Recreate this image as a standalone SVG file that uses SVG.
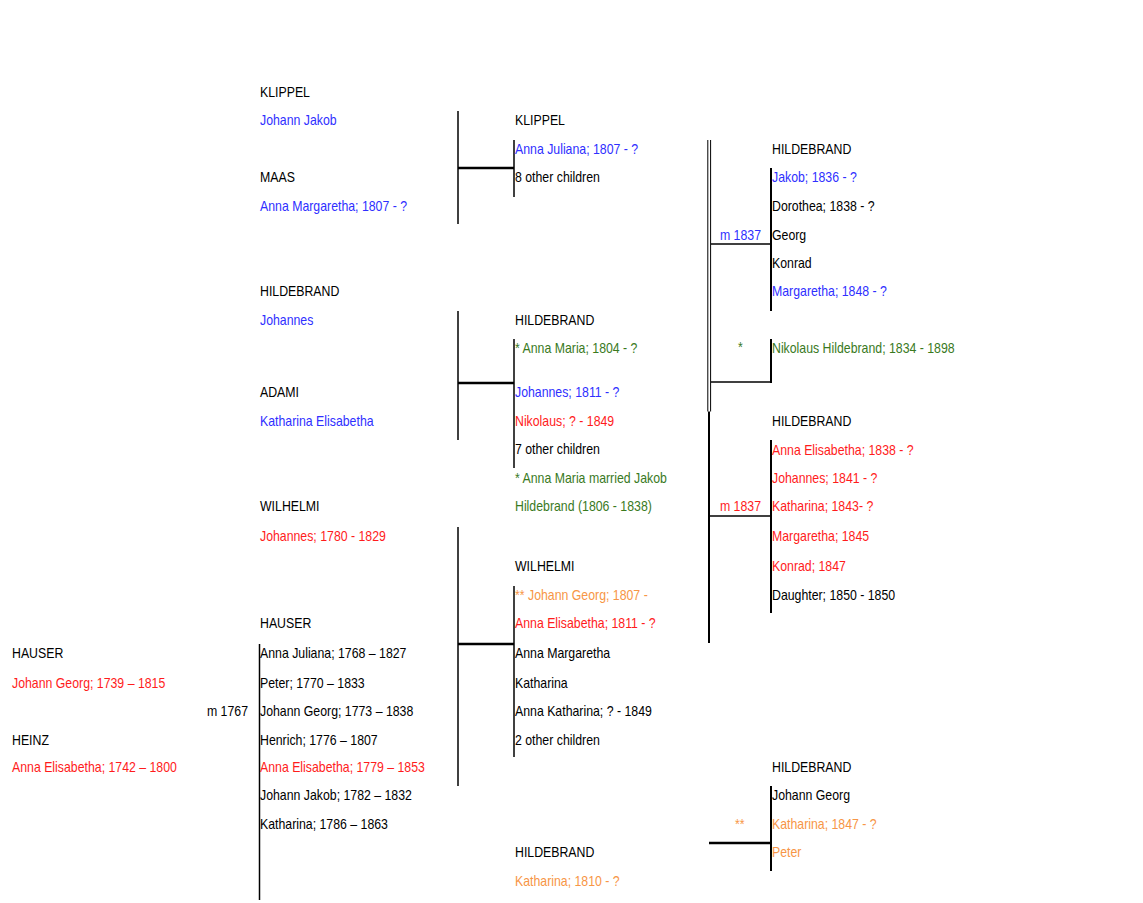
<svg xmlns="http://www.w3.org/2000/svg" width="1143" height="903" viewBox="0 0 1143 903">
<style>
text{font-family:"Liberation Sans",Arial,sans-serif;font-size:14px;fill:#000}
.b{fill:#2f2fff}
.r{fill:#ff1c1c}
.g{fill:#3a7a1e}
.o{fill:#f79646}
.e{text-anchor:end}
.c line{stroke:#000;stroke-width:1.5}
.c .t{stroke-width:2.5}
.c .m{stroke-width:2}
.c .d{stroke-width:1}
</style>
<rect width="1143" height="903" fill="#fff"/>
<g class="c" id="connectors">
<line x1="458" y1="111" x2="458" y2="224"/>
<line class="t" x1="458" y1="168" x2="514" y2="168"/>
<line x1="514" y1="140" x2="514" y2="197"/>
<line x1="458" y1="311" x2="458" y2="440"/>
<line class="t" x1="458" y1="383" x2="514" y2="383"/>
<line x1="514" y1="339" x2="514" y2="468"/>
<line x1="458" y1="527" x2="458" y2="786"/>
<line class="t" x1="458" y1="644" x2="514" y2="644"/>
<line x1="514" y1="586" x2="514" y2="757"/>
<line x1="259.5" y1="644" x2="259.5" y2="900"/>
<line class="d" x1="707.8" y1="140" x2="707.8" y2="411.5"/>
<line class="d" x1="710.6" y1="140" x2="710.6" y2="411.5"/>
<line class="m" x1="709" y1="411.5" x2="709" y2="643"/>
<line x1="711" y1="244" x2="771" y2="244"/>
<line class="m" x1="771" y1="168" x2="771" y2="311"/>
<line x1="711" y1="382" x2="772" y2="382"/>
<line class="m" x1="771" y1="339" x2="771" y2="383"/>
<line x1="709" y1="516" x2="771" y2="516"/>
<line class="m" x1="771" y1="440" x2="771" y2="613"/>
<line class="t" x1="709" y1="843" x2="771" y2="843"/>
<line class="m" x1="771" y1="786" x2="771" y2="871"/>
</g>
<g id="hauser-jg" transform="translate(12 0) scale(0.88 1)">
<text x="0" y="658">HAUSER</text>
<text class="r" x="0" y="688">Johann Georg; 1739 – 1815</text>
</g>
<g id="heinz-ae" transform="translate(12 0) scale(0.88 1)">
<text x="0" y="745">HEINZ</text>
<text class="r" x="0" y="772">Anna Elisabetha; 1742 – 1800</text>
</g>
<g id="m1767" transform="translate(248 0) scale(0.88 1)">
<text class="e" x="0" y="716.5">m 1767</text>
</g>
<g id="klippel-jj" transform="translate(260 0) scale(0.88 1)">
<text x="0" y="97">KLIPPEL</text>
<text class="b" x="0" y="125">Johann Jakob</text>
</g>
<g id="maas-am" transform="translate(260 0) scale(0.88 1)">
<text x="0" y="182">MAAS</text>
<text class="b" x="0" y="211">Anna Margaretha; 1807 - ?</text>
</g>
<g id="hildebrand-j" transform="translate(260 0) scale(0.88 1)">
<text x="0" y="296.5">HILDEBRAND</text>
<text class="b" x="0" y="325">Johannes</text>
</g>
<g id="adami-ke" transform="translate(260 0) scale(0.88 1)">
<text x="0" y="397">ADAMI</text>
<text class="b" x="0" y="426">Katharina Elisabetha</text>
</g>
<g id="wilhelmi-j" transform="translate(260 0) scale(0.88 1)">
<text x="0" y="511.5">WILHELMI</text>
<text class="r" x="0" y="541">Johannes; 1780 - 1829</text>
</g>
<g id="hauser-children" transform="translate(260 0) scale(0.88 1)">
<text x="0" y="628">HAUSER</text>
<text x="0" y="658">Anna Juliana; 1768 – 1827</text>
<text x="0" y="688">Peter; 1770 – 1833</text>
<text x="0" y="716.5">Johann Georg; 1773 – 1838</text>
<text x="0" y="745">Henrich; 1776 – 1807</text>
<text class="r" x="0" y="772">Anna Elisabetha; 1779 – 1853</text>
<text x="0" y="800.5">Johann Jakob; 1782 – 1832</text>
<text x="0" y="829">Katharina; 1786 – 1863</text>
</g>
<g id="klippel-children" transform="translate(515 0) scale(0.88 1)">
<text x="0" y="125">KLIPPEL</text>
<text class="b" x="0" y="154">Anna Juliana; 1807 - ?</text>
<text x="0" y="182">8 other children</text>
</g>
<g id="hildebrand-children" transform="translate(515 0) scale(0.88 1)">
<text x="0" y="325.5">HILDEBRAND</text>
<text class="g" x="0" y="353">* Anna Maria; 1804 - ?</text>
<text class="b" x="0" y="397">Johannes; 1811 - ?</text>
<text class="r" x="0" y="426">Nikolaus; ? - 1849</text>
<text x="0" y="454">7 other children</text>
<text class="g" x="0" y="483">* Anna Maria married Jakob</text>
<text class="g" x="0" y="511.5">Hildebrand (1806 - 1838)</text>
</g>
<g id="wilhelmi-children" transform="translate(515 0) scale(0.88 1)">
<text x="0" y="571.5">WILHELMI</text>
<text class="o" x="0" y="600">** Johann Georg; 1807 -</text>
<text class="r" x="0" y="628">Anna Elisabetha; 1811 - ?</text>
<text x="0" y="658">Anna Margaretha</text>
<text x="0" y="688">Katharina</text>
<text x="0" y="716.5">Anna Katharina; ? - 1849</text>
<text x="0" y="745">2 other children</text>
</g>
<g id="hildebrand-k" transform="translate(515 0) scale(0.88 1)">
<text x="0" y="857.5">HILDEBRAND</text>
<text class="o" x="0" y="886.5">Katharina; 1810 - ?</text>
</g>
<g id="m1837-blue" transform="translate(761 0) scale(0.88 1)">
<text class="b e" x="0" y="240">m 1837</text>
</g>
<g id="hildebrand-children-1" transform="translate(772 0) scale(0.88 1)">
<text x="0" y="154">HILDEBRAND</text>
<text class="b" x="0" y="182.5">Jakob; 1836 - ?</text>
<text x="0" y="211.5">Dorothea; 1838 - ?</text>
<text x="0" y="240">Georg</text>
<text x="0" y="268">Konrad</text>
<text class="b" x="0" y="296.5">Margaretha; 1848 - ?</text>
</g>
<g id="star-1" transform="translate(738 0) scale(0.88 1)">
<text class="g" x="0" y="352">*</text>
</g>
<g id="nikolaus" transform="translate(772 0) scale(0.88 1)">
<text class="g" x="0" y="353">Nikolaus Hildebrand; 1834 - 1898</text>
</g>
<g id="m1837-red" transform="translate(761 0) scale(0.88 1)">
<text class="r e" x="0" y="511.5">m 1837</text>
</g>
<g id="hildebrand-children-2" transform="translate(772 0) scale(0.88 1)">
<text x="0" y="426.5">HILDEBRAND</text>
<text class="r" x="0" y="455">Anna Elisabetha; 1838 - ?</text>
<text class="r" x="0" y="483">Johannes; 1841 - ?</text>
<text class="r" x="0" y="511.5">Katharina; 1843- ?</text>
<text class="r" x="0" y="541.5">Margaretha; 1845</text>
<text class="r" x="0" y="571.5">Konrad; 1847</text>
<text x="0" y="600">Daughter; 1850 - 1850</text>
</g>
<g id="star-2" transform="translate(735 0) scale(0.88 1)">
<text class="o" x="0" y="829">**</text>
</g>
<g id="hildebrand-children-3" transform="translate(772 0) scale(0.88 1)">
<text x="0" y="772">HILDEBRAND</text>
<text x="0" y="800.5">Johann Georg</text>
<text class="o" x="0" y="829">Katharina; 1847 - ?</text>
<text class="o" x="0" y="857.5">Peter</text>
</g>
</svg>
